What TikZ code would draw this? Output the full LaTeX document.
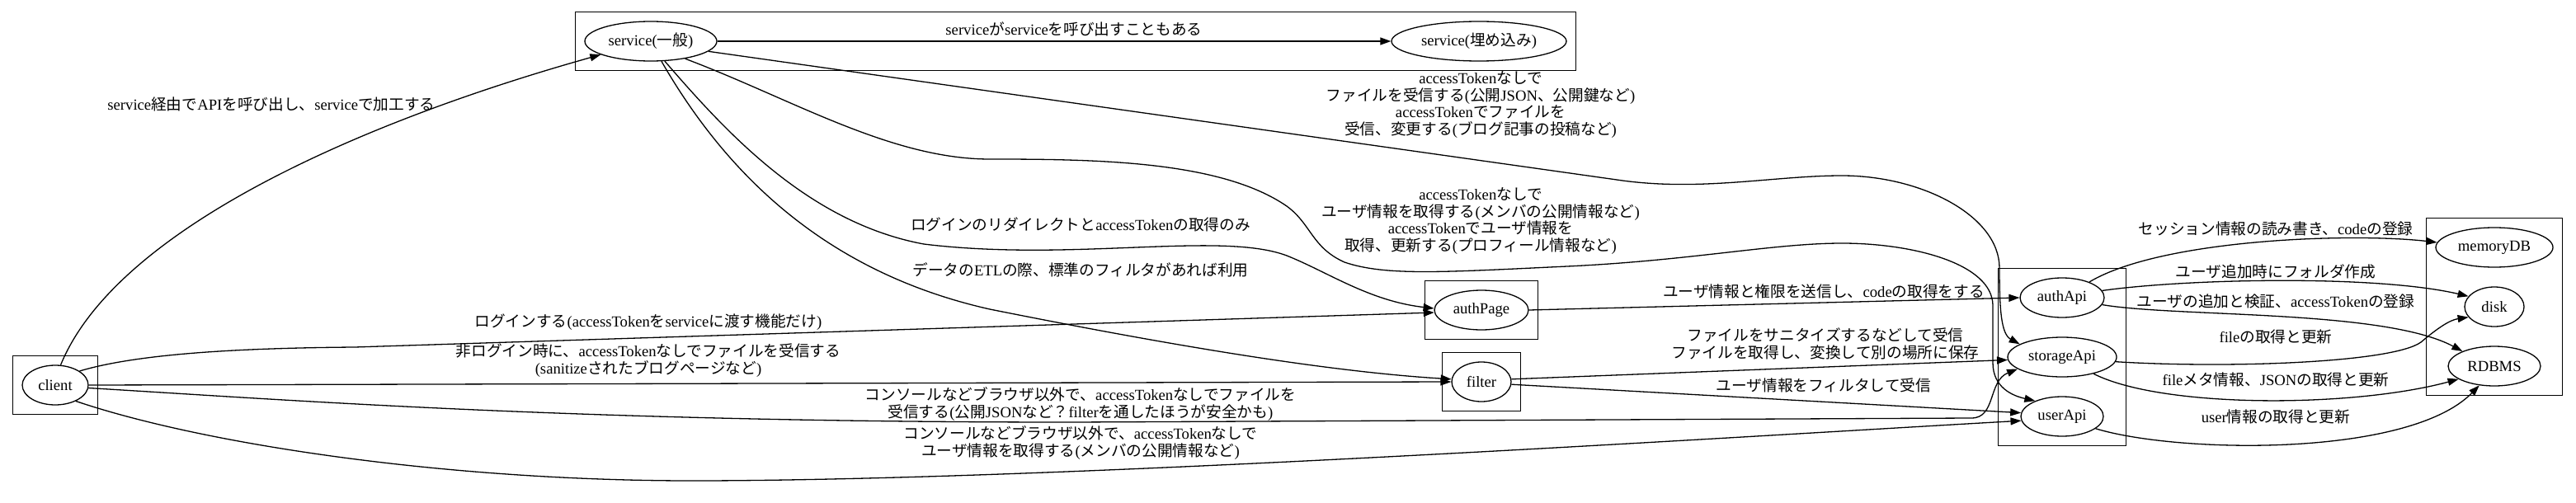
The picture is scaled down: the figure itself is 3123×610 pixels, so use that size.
\documentclass[tikz,border=0pt]{standalone}
\usepackage{fontspec}
\setmainfont{Liberation Serif}
\newfontfamily\jpfont{Noto Sans CJK JP}
\usetikzlibrary{arrows.meta, shapes.geometric, fit}

% kana, kanji and full-width forms are set in the Japanese font
\XeTeXinterchartokenstate=1
\newXeTeXintercharclass\jpclass
\newcount\jpcode
\newcommand\setjprange[2]{\jpcode=#1 \loop\ifnum\jpcode<#2 \XeTeXcharclass\jpcode=\jpclass \advance\jpcode by 1 \repeat}
\setjprange{"3000}{"3100}
\setjprange{"4E00}{"A000}
\setjprange{"FF00}{"FFF0}
\XeTeXinterchartoks 0 \jpclass = {\jpfont}
\XeTeXinterchartoks 4095 \jpclass = {\jpfont}
\XeTeXinterchartoks \jpclass 0 = {\rmfamily}
\XeTeXinterchartoks \jpclass 4095 = {\rmfamily}

\begin{document}
\begin{tikzpicture}[
  x=1pt, y=1pt,
  font=\fontsize{18.67}{20.5}\selectfont,
  comp/.style={draw, ellipse, line width=1.3pt, inner xsep=-28pt, inner ysep=0pt, minimum height=48pt},
  group/.style={draw, line width=1.3pt, inner sep=11pt},
  lbl/.style={align=center, inner sep=0pt},
  arr/.style={-{Triangle[length=13pt, width=9pt]}, line width=1.3pt},
]
\useasboundingbox (0,0) rectangle (3123,-610);

% --- Components ---
\node[comp, minimum width=80pt] (client) at (67,-467) {client};
\node[comp, minimum width=160pt] (svc) at (789,-50) {service(一般)};
\node[comp, minimum width=212pt] (svcemb) at (1793,-50) {service(埋め込み)};
\node[comp, minimum width=114pt] (authpage) at (1796,-376) {authPage};
\node[comp, minimum width=72pt] (filter) at (1796,-463) {filter};
\node[comp, minimum width=102pt] (authapi) at (2500,-361) {authApi};
\node[comp, minimum width=132pt] (storageapi) at (2500,-433) {storageApi};
\node[comp, minimum width=100pt] (userapi) at (2500,-505) {userApi};
\node[comp, minimum width=142pt] (memdb) at (3024,-300) {memoryDB};
\node[comp, minimum width=72pt] (disk) at (3024,-372) {disk};
\node[comp, minimum width=112pt] (rdbms) at (3024,-444) {RDBMS};

% --- Clusters ---
\node[group, fit=(client)] (clientbox) {};
\node[group, fit=(svc)(svcemb)] (svcbox) {};
\node[group, fit=(authpage)] (authpagebox) {};
\node[group, fit=(filter)] (filterbox) {};
\node[group, fit=(authapi)(storageapi)(userapi)] (apibox) {};
\node[group, fit=(memdb)(disk)(rdbms)] (storebox) {};

% --- From service ---
\draw[arr] (client.75) .. controls (140,-280) and (430,-150) .. (svc.195);
\draw[arr] (svc) -- (svcemb);
\draw[arr] (svc.-10) -- (1960,-218) .. controls (2060,-233) and (2150,-213) .. (2233,-213) .. controls (2330,-213) and (2424,-262) .. (2424,-325) .. controls (2424,-375) and (2426,-405) .. (storageapi.163);
\draw[arr] (svc.-27) .. controls (960,-120) and (1080,-193) .. (1200,-193) .. controls (1330,-193) and (1480,-195) .. (1560,-250) .. controls (1590,-272) and (1590,-300) .. (1630,-318) .. controls (1680,-335) and (1750,-330) .. (1900,-323) .. controls (2050,-316) and (2150,-295) .. (2233,-295) .. controls (2320,-295) and (2415,-320) .. (2416,-370) -- (2416,-440) .. controls (2416,-470) and (2440,-480) .. (userapi.150);
\draw[arr] (svc.-55) .. controls (880,-160) and (980,-270) .. (1120,-296) .. controls (1300,-318) and (1480,-280) .. (1560,-310) .. controls (1610,-330) and (1660,-365) .. (authpage.178);
\draw[arr] (svc.-62) .. controls (880,-210) and (1000,-330) .. (1200,-375) .. controls (1400,-415) and (1600,-450) .. (filter.175);

% --- From client ---
\draw[arr] (client.30) .. controls (170,-428) and (300,-422) .. (430,-421) -- (authpage.183);
\draw[arr] (client.east) -- (filter.west);
\draw[arr] (client.-5) .. controls (350,-485) and (700,-512) .. (1300,-512) -- (2390,-507) .. controls (2420,-507) and (2410,-462) .. (storageapi.195);
\draw[arr] (client.-38) .. controls (250,-540) and (550,-584) .. (850,-583) .. controls (1300,-582) and (2100,-530) .. (userapi.186);

% --- filter / authPage to APIs ---
\draw[arr] (filter.5) -- (storageapi.183);
\draw[arr] (filter.-5) -- (userapi.175);
\draw[arr] (authpage.east) -- (authapi.west);

% --- APIs to stores ---
\draw[arr] (authapi.30) .. controls (2620,-290) and (2850,-282) .. (memdb.175);
\draw[arr] (authapi.10) .. controls (2650,-338) and (2880,-333) .. (disk.158);
\draw[arr] (authapi.-10) .. controls (2640,-385) and (2890,-375) .. (rdbms.155);
\draw[arr] (storageapi.-5) .. controls (2700,-447) and (2900,-440) .. (2935,-415) .. controls (2955,-398) and (2970,-388) .. (disk.202);
\draw[arr] (storageapi.-28) .. controls (2620,-495) and (2850,-495) .. (rdbms.200);
\draw[arr] (userapi.-20) .. controls (2640,-550) and (2920,-555) .. (rdbms.232);

% --- Edge labels ---
\node[lbl] (lclientsvc) at (329,-126) {service経由でAPIを呼び出し、serviceで加工する};
\node[lbl] (lsvcemb) at (1302,-35) {serviceがserviceを呼び出すこともある};
\node[lbl] (lsvcstorage) at (1795,-127) {accessTokenなしで\\ファイルを受信する(公開JSON、公開鍵など)\\accessTokenでファイルを\\受信、変更する(ブログ記事の投稿など)};
\node[lbl] (lsvcuser) at (1795,-268) {accessTokenなしで\\ユーザ情報を取得する(メンバの公開情報など)\\accessTokenでユーザ情報を\\取得、更新する(プロフィール情報など)};
\node[lbl] (lsvcauth) at (1310,-272) {ログインのリダイレクトとaccessTokenの取得のみ};
\node[lbl] (lsvcfilter) at (1310,-327) {データのETLの際、標準のフィルタがあれば利用};
\node[lbl] (lclientauth) at (786,-391) {ログインする(accessTokenをserviceに渡す機能だけ)};
\node[lbl] (lclientfilter) at (786,-437) {非ログイン時に、accessTokenなしでファイルを受信する\\(sanitizeされたブログページなど)};
\node[lbl] (lclientstorage) at (1310,-490) {コンソールなどブラウザ以外で、accessTokenなしでファイルを\\受信する(公開JSONなど？filterを通したほうが安全かも)};
\node[lbl] (lclientuser) at (1310,-537) {コンソールなどブラウザ以外で、accessTokenなしで\\ユーザ情報を取得する(メンバの公開情報など)};
\node[lbl] (lpageapi) at (2211,-353) {ユーザ情報と権限を送信し、codeの取得をする};
\node[lbl] (lfilterstorage) at (2213,-417) {ファイルをサニタイズするなどして受信\\ファイルを取得し、変換して別の場所に保存};
\node[lbl] (lfilteruser) at (2211,-467) {ユーザ情報をフィルタして受信};
\node[lbl] (lauthmem) at (2759,-277) {セッション情報の読み書き、codeの登録};
\node[lbl] (lauthdisk) at (2759,-329) {ユーザ追加時にフォルダ作成};
\node[lbl] (lauthrdb) at (2759,-365) {ユーザの追加と検証、accessTokenの登録};
\node[lbl] (lstoragedisk) at (2759,-408) {fileの取得と更新};
\node[lbl] (lstoragerdb) at (2759,-460) {fileメタ情報、JSONの取得と更新};
\node[lbl] (luserrdb) at (2759,-505) {user情報の取得と更新};

\end{tikzpicture}
\end{document}
